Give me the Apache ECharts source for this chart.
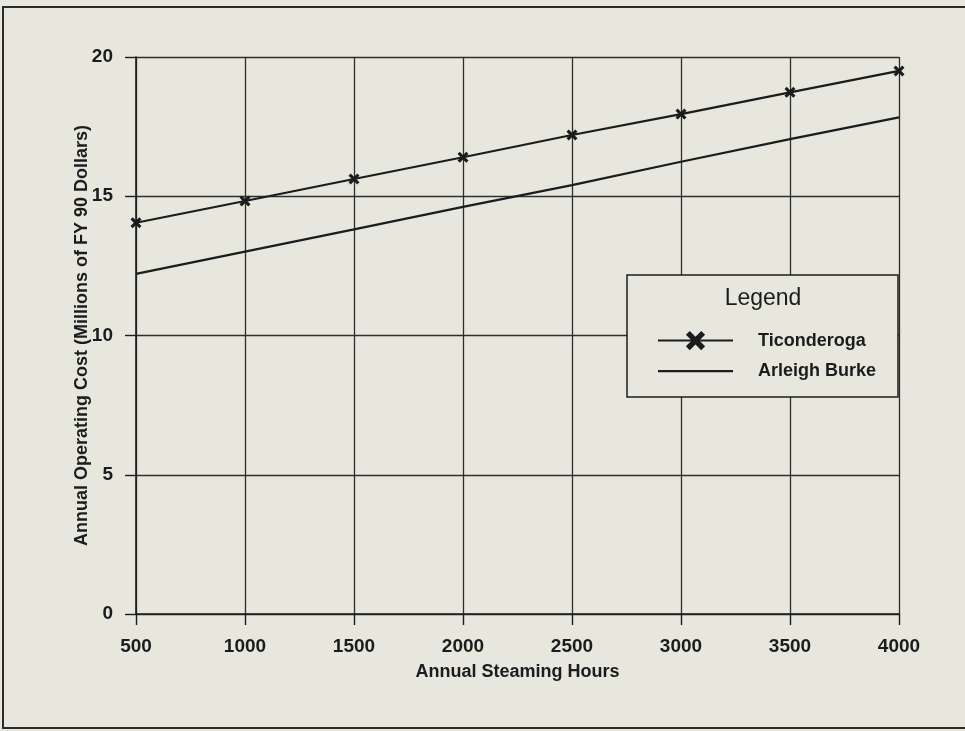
<!DOCTYPE html>
<html>
<head>
<meta charset="utf-8">
<title>Annual Operating Cost vs Annual Steaming Hours</title>
<script src="https://cdn.jsdelivr.net/npm/echarts@6/dist/echarts.min.js"></script>
<style>
  html, body { margin: 0; padding: 0; background: #e7e7de; }
  #chart { width: 965px; height: 731px; }
</style>
</head>
<body>
<div id="chart"></div>
<script>
// Annual steaming hours (x) and annual operating cost in millions of FY 90 dollars (y)
const steamingHours = [500, 1000, 1500, 2000, 2500, 3000, 3500, 4000];
const ticonderogaCost = [14.05, 14.83, 15.62, 16.40, 17.20, 17.95, 18.73, 19.50];
const arleighBurkeCost = [12.21, 13.01, 13.81, 14.62, 15.40, 16.24, 17.05, 17.83];
const costTicks = [0, 5, 10, 15, 20];

const ink = '#1c1c1c';
const font = '"Liberation Sans", Arial, Helvetica, sans-serif';
const crossSymbol = 'path://M0,2 L2,0 L5,3 L8,0 L10,2 L7,5 L10,8 L8,10 L5,7 L2,10 L0,8 L3,5 Z';
const plainLineIcon = 'path://M0,0 L75,0 L75,2.2 L0,2.2 Z';

const pairs = (xs, ys) => xs.map((x, i) => [x, ys[i]]);
const plainNumber = v => String(v);

const chart = echarts.init(document.getElementById('chart'), null, { renderer: 'canvas' });

chart.setOption({
  backgroundColor: '#e7e7de',
  animation: false,
  textStyle: { fontFamily: font, color: ink },
  grid: { left: 136, right: 66, top: 57, bottom: 117, containLabel: false },
  xAxis: {
    type: 'value',
    min: steamingHours[0],
    max: steamingHours[steamingHours.length - 1],
    interval: 500,
    name: 'Annual Steaming Hours',
    nameLocation: 'middle',
    nameGap: 49,
    nameMoveOverlap: false,
    nameTextStyle: { fontFamily: font, fontSize: 18, fontWeight: 'bold', color: ink },
    axisLine: { show: true, lineStyle: { color: ink, width: 1.6 } },
    axisTick: { show: true, length: 11, inside: false, lineStyle: { color: ink, width: 1.4 } },
    axisLabel: { fontFamily: font, fontSize: 19, fontWeight: 'bold', color: ink, margin: 23, formatter: plainNumber },
    splitLine: { show: true, lineStyle: { color: '#2e2e2e', width: 1.3 } }
  },
  yAxis: {
    type: 'value',
    min: costTicks[0],
    max: costTicks[costTicks.length - 1],
    interval: 5,
    name: 'Annual Operating Cost (Millions of FY 90 Dollars)',
    nameLocation: 'middle',
    nameGap: 45,
    nameMoveOverlap: false,
    nameTextStyle: { fontFamily: font, fontSize: 18, fontWeight: 'bold', color: ink },
    axisLine: { show: true, lineStyle: { color: ink, width: 1.6 } },
    axisTick: { show: true, length: 11, inside: false, lineStyle: { color: ink, width: 1.4 } },
    axisLabel: { fontFamily: font, fontSize: 19, fontWeight: 'bold', color: ink, margin: 23, formatter: plainNumber },
    splitLine: { show: true, lineStyle: { color: '#2e2e2e', width: 1.3 } }
  },
  legend: {
    left: 652,
    top: 326,
    orient: 'vertical',
    itemWidth: 75,
    itemHeight: 24,
    itemGap: 12,
    selectedMode: false,
    symbolKeepAspect: true,
    z: 20,
    textStyle: { fontFamily: font, fontSize: 18, fontWeight: 'bold', color: ink, padding: [0, 0, 0, 20] },
    data: [
      { name: 'Ticonderoga' },
      { name: 'Arleigh Burke', icon: plainLineIcon }
    ]
  },
  graphic: [
    {
      type: 'rect',
      z: 10,
      shape: { x: 627, y: 275, width: 271, height: 122 },
      style: { fill: '#e7e7de', stroke: ink, lineWidth: 1.5 }
    },
    {
      type: 'text',
      z: 11,
      x: 763,
      y: 299,
      style: {
        text: 'Legend',
        font: '23px ' + font,
        fill: ink,
        align: 'center',
        verticalAlign: 'middle'
      }
    },
    {
      type: 'rect',
      z: 0,
      silent: true,
      shape: { x: 3, y: 7, width: 1000, height: 721 },
      style: { fill: 'none', stroke: '#2a2a2a', lineWidth: 2 }
    }
  ],
  series: [
    {
      name: 'Ticonderoga',
      type: 'line',
      data: pairs(steamingHours, ticonderogaCost),
      symbol: crossSymbol,
      symbolSize: 11,
      showSymbol: true,
      lineStyle: { color: ink, width: 2.2 },
      itemStyle: { color: ink },
      z: 5
    },
    {
      name: 'Arleigh Burke',
      type: 'line',
      data: pairs(steamingHours, arleighBurkeCost),
      symbol: 'none',
      lineStyle: { color: ink, width: 2.2 },
      itemStyle: { color: ink },
      z: 5
    }
  ]
});
</script>
</body>
</html>
